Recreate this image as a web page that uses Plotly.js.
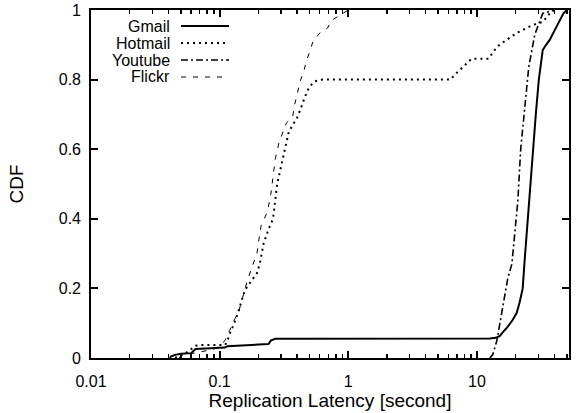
<!DOCTYPE html>
<html>
<head>
<meta charset="utf-8">
<script src="https://cdn.plot.ly/plotly-3.0.1.min.js"></script>
<style>html,body{margin:0;padding:0;background:#fff;}#chart{width:576px;height:413px;}</style>
</head>
<body>
<div id="chart"></div>
<script>
// Series data (latency in seconds, CDF)
const gmailX = [0.041,0.042,0.045,0.05,0.06,0.063,0.065,0.11,0.115,0.24,0.25,0.27,3,12.6,14,15,16,17.4,19,20.4,21.5,22.7,23.5,24.8,26,27.2,28.7,30.3,32.5,34.5,36.8,40,44,47,50];
const gmailY = [0,0.005,0.009,0.012,0.014,0.02,0.026,0.03,0.034,0.04,0.05,0.055,0.055,0.056,0.058,0.063,0.075,0.09,0.11,0.13,0.16,0.2,0.28,0.4,0.5,0.6,0.7,0.8,0.885,0.9,0.914,0.94,0.97,0.99,1.0];

const hotmailX = [0.045,0.05,0.055,0.06,0.065,0.07,0.11,0.115,0.12,0.13,0.139,0.157,0.175,0.195,0.205,0.213,0.22,0.24,0.26,0.28,0.30,0.32,0.345,0.37,0.40,0.43,0.46,0.50,0.55,0.63,6.2,7.0,8.3,9.1,12.3,14.3,17.0,20.4,27.2,32.5,36.8,40];
const hotmailY = [0,0.01,0.015,0.025,0.035,0.037,0.037,0.05,0.07,0.1,0.13,0.195,0.22,0.244,0.27,0.30,0.33,0.37,0.40,0.50,0.55,0.60,0.65,0.67,0.69,0.72,0.75,0.78,0.795,0.80,0.80,0.82,0.847,0.86,0.86,0.894,0.914,0.934,0.957,0.966,0.99,1.0];

const youtubeX = [12.6,13.3,14.3,15.8,17.4,18.7,19.7,20.8,21.9,23.1,25.3,28.2,32.5,40];
const youtubeY = [0,0.01,0.05,0.147,0.23,0.27,0.36,0.45,0.6,0.69,0.836,0.93,0.99,1.0];

const flickrX = [0.048,0.05,0.055,0.065,0.08,0.09,0.1,0.11,0.12,0.13,0.14,0.15,0.163,0.178,0.195,0.20,0.21,0.235,0.25,0.26,0.27,0.29,0.33,0.37,0.38,0.40,0.42,0.45,0.47,0.50,0.53,0.60,0.69,0.74,0.91,1.0];
const flickrY = [0,0.005,0.01,0.015,0.02,0.025,0.035,0.05,0.08,0.11,0.13,0.17,0.218,0.26,0.30,0.33,0.38,0.42,0.47,0.52,0.57,0.62,0.675,0.693,0.724,0.756,0.793,0.822,0.851,0.879,0.908,0.934,0.948,0.97,0.99,1.0];

const seriesNames = ["Gmail","Hotmail","Youtube","Flickr"];
const xTickVals = [0.01,0.1,1,10];
const xTickText = ["0.01","0.1","1","10"];
const yTickVals = [0,0.2,0.4,0.6,0.8,1];
const yTickText = ["0","0.2","0.4","0.6","0.8","1"];

// minor log ticks: 2..9 within each decade
const xMinorVals = [];
xTickVals.forEach(d => { for (let k = 2; k <= 9; k++) { const v = d * k; if (v <= 52) xMinorVals.push(+v.toPrecision(3)); } });

const styles = [
  {width:2, dash:"solid"},
  {width:2, dash:"2px,4px"},
  {width:1.6, dash:"7px,3px,2px,3px"},
  {width:1, dash:"5px,7px"}
];
const xs = [gmailX, hotmailX, youtubeX, flickrX];
const ys = [gmailY, hotmailY, youtubeY, flickrY];

const traces = seriesNames.map((n,i)=>({
  x: xs[i], y: ys[i], name: n, type: "scatter", mode: "lines",
  line: {color: "#000", width: styles[i].width, dash: styles[i].dash},
  showlegend: false, hoverinfo: "skip"
}));

const FONT = "Liberation Sans, Arial, Helvetica, sans-serif";
const L = 91, R = 569, T = 10, B = 358;
const pw = R - L, ph = B - T;
const legRows = [26, 43, 60, 77];
const annotations = seriesNames.map((n,i)=>({
  xref: "paper", yref: "paper",
  x: (172 - L)/pw, y: (B - legRows[i])/ph,
  xanchor: "right", yanchor: "middle",
  text: n, showarrow: false,
  font: {family: FONT, size: 16, color: "#000"}
}));
const shapes = seriesNames.map((n,i)=>({
  type: "line", xref: "paper", yref: "paper",
  x0: (181 - L)/pw, x1: (229 - L)/pw,
  y0: (B - legRows[i])/ph, y1: (B - legRows[i])/ph,
  line: {color: "#000", width: styles[i].width, dash: styles[i].dash}
}));

const layout = {
  width: 576, height: 413,
  margin: {l: L, r: 576 - R, t: T, b: 413 - B},
  font: {family: FONT, size: 16, color: "#000"},
  showlegend: false,
  xaxis: {
    type: "log", range: [-2, Math.log10(52)],
    tickmode: "array", tickvals: xTickVals, ticktext: xTickText,
    ticks: "inside", ticklen: 7, tickwidth: 2, tickcolor: "black",
    minor: {tickmode: "array", tickvals: xMinorVals, ticks: "inside", ticklen: 4, tickwidth: 1.5, tickcolor: "black"},
    showline: true, linecolor: "black", linewidth: 1.8, mirror: "allticks",
    showgrid: false, zeroline: false,
    ticklabelstandoff: 8,
    title: {text: "Replication Latency [second]", standoff: 3}
  },
  yaxis: {
    range: [0, 1],
    tickmode: "array", tickvals: yTickVals, ticktext: yTickText,
    ticks: "inside", ticklen: 7, tickwidth: 2, tickcolor: "black",
    showline: true, linecolor: "black", linewidth: 1.8, mirror: "allticks",
    showgrid: false, zeroline: false,
    ticklabelstandoff: 5,
    title: {text: "CDF", standoff: 30}
  },
  annotations: annotations,
  shapes: shapes
};

Plotly.newPlot("chart", traces, layout, {displayModeBar: false, staticPlot: true});
</script>
</body>
</html>
